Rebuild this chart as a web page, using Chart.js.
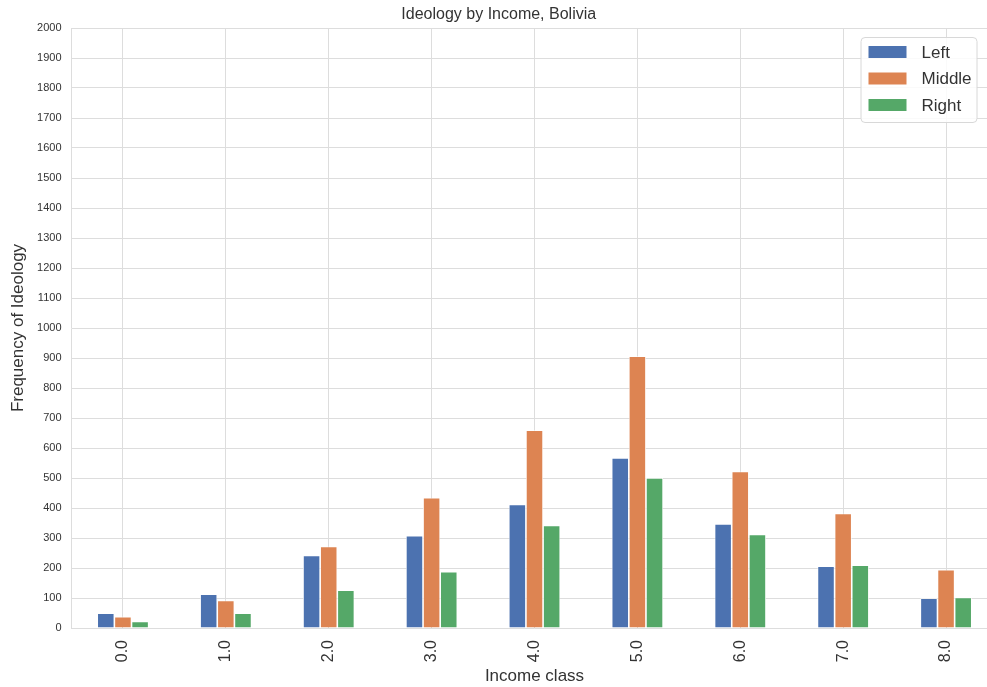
<!DOCTYPE html>
<html>
<head>
<meta charset="utf-8">
<script src="https://cdn.jsdelivr.net/npm/chart.js@4"></script>
<style>
  html, body { margin: 0; padding: 0; background: #fff; overflow: hidden; }
  canvas { display: block; }
</style>
</head>
<body>
<canvas id="chart" width="1000" height="687"></canvas>
<script>
        // Данные графика
        const incomeClasses = ['0.0', '1.0', '2.0', '3.0', '4.0', '5.0', '6.0', '7.0', '8.0'];
        const leftValues = [49, 113, 242, 308, 412, 567, 347, 206, 99];
        const middleValues = [38, 92, 272, 434, 659, 906, 522, 382, 194];
        const rightValues = [22, 49, 126, 188, 342, 500, 312, 209, 102];

        const gridColor = '#dddddd';
        const textColor = '#333333';
        const fontFamily = '"Liberation Sans", Arial, sans-serif';

        // Легенда внутри области графика (справа сверху)
        const insideLegend = {
            id: 'insideLegend',
            afterDraw(chart) {
                const ctx = chart.ctx;
                const area = chart.chartArea;
                const boxW = 116, boxH = 85;
                const x = area.right - 21 - boxW;
                const y = area.top + 9;
                ctx.save();
                ctx.fillStyle = 'rgba(255,255,255,0.85)';
                ctx.strokeStyle = '#d8d8d8';
                ctx.lineWidth = 1;
                ctx.beginPath();
                ctx.roundRect(x + 0.5, y + 0.5, boxW, boxH, 4);
                ctx.fill();
                ctx.stroke();
                ctx.font = '17px ' + fontFamily;
                ctx.textBaseline = 'middle';
                chart.data.datasets.forEach((ds, i) => {
                    const rowY = y + 15 + i * 26.5;
                    ctx.fillStyle = ds.backgroundColor;
                    ctx.fillRect(x + 8, rowY - 6, 38, 12);
                    ctx.fillStyle = textColor;
                    ctx.fillText(ds.label, x + 61, rowY + 1);
                });
                ctx.restore();
            }
        };

        const ctx = document.getElementById('chart').getContext('2d');
        const ideologyChart = new Chart(ctx, {
            type: 'bar',
            data: {
                labels: incomeClasses,
                datasets: [
                    { label: 'Left', data: leftValues, backgroundColor: '#4C72B0' },
                    { label: 'Middle', data: middleValues, backgroundColor: '#DD8452' },
                    { label: 'Right', data: rightValues, backgroundColor: '#55A868' }
                ]
            },
            options: {
                responsive: false,
                animation: false,
                layout: { padding: { left: 0, right: 2.5, top: 0, bottom: 0 } },
                datasets: {
                    bar: {
                        categoryPercentage: 0.5,
                        barPercentage: 1.0,
                        borderColor: '#ffffff',
                        borderWidth: 0.8
                    }
                },
                plugins: {
                    legend: { display: false },
                    tooltip: { enabled: false },
                    title: {
                        display: true,
                        text: 'Ideology by Income, Bolivia',
                        color: textColor,
                        font: { family: fontFamily, size: 16, weight: 'normal' },
                        padding: { top: 5, bottom: 3.8 }
                    }
                },
                scales: {
                    x: {
                        grid: { color: gridColor, offset: false, drawTicks: false },
                        border: { display: false },
                        ticks: {
                            color: textColor,
                            font: { family: fontFamily, size: 16 },
                            minRotation: 90,
                            maxRotation: 90,
                            padding: 12
                        },
                        title: {
                            display: true,
                            text: 'Income class',
                            color: textColor,
                            font: { family: fontFamily, size: 17 },
                            padding: { top: 0, bottom: 0 }
                        },
                        afterFit(scale) { scale.height = 59; }
                    },
                    y: {
                        min: 0,
                        max: 2000,
                        grid: { color: gridColor, drawTicks: false },
                        border: { display: true, color: gridColor },
                        ticks: {
                            stepSize: 100,
                            color: textColor,
                            font: { family: fontFamily, size: 11 },
                            padding: 10,
                            callback: (value) => String(value)
                        },
                        title: {
                            display: true,
                            text: 'Frequency of Ideology',
                            color: textColor,
                            font: { family: fontFamily, size: 17 },
                            padding: { top: 8, bottom: 0 }
                        },
                        afterFit(scale) { scale.width = 71.5; }
                    }
                }
            },
            plugins: [insideLegend]
        });
</script>
</body>
</html>
